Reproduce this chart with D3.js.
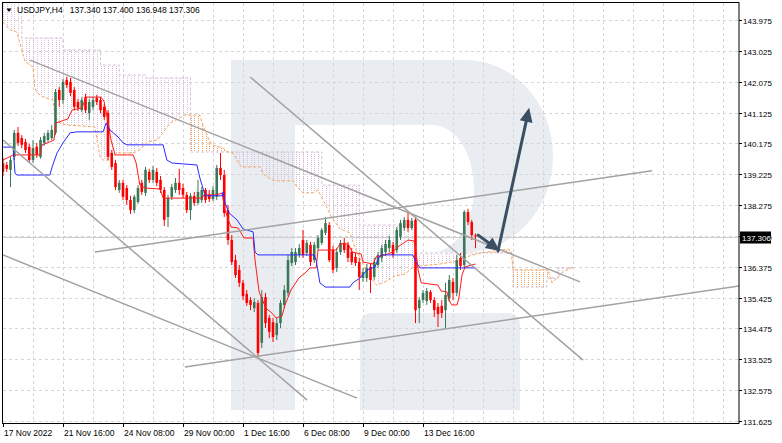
<!DOCTYPE html>
<html><head><meta charset="utf-8">
<script src="https://cdn.jsdelivr.net/npm/d3@7"></script>
<style>body{margin:0;background:#fff;}svg{display:block;}text{font-family:"Liberation Sans",Arial,sans-serif;}</style>
</head><body>
<svg id="c" width="782" height="443"></svg>
<script>
// ---------- data ----------
const symbolTitle = "USDJPY,H4";
const headerValues = ["137.340", "137.400", "136.948", "137.306"];
const lastPrice = 137.306;

const opens = [139.57,139.51,139.36,139.76,140.50,140.34,140.22,140.07,139.66,140.07,
139.76,140.19,140.28,140.34,140.50,141.82,141.51,142.13,142.07,141.82,
141.45,141.20,141.60,141.11,141.30,141.57,141.51,141.30,141.11,139.88,
139.57,138.74,138.96,138.80,138.43,138.12,138.37,138.96,138.65,139.30,
139.05,139.30,139.05,138.74,137.91,138.53,138.74,138.96,138.80,138.59,
138.12,138.56,138.34,138.43,138.74,138.59,138.46,138.53,139.42,139.20,
138.12,137.20,136.58,136.28,135.88,135.54,135.35,135.10,135.26,134.03,
135.44,134.80,134.67,134.27,134.64,135.20,135.57,136.49,136.52,136.74,
137.20,136.80,137.05,136.58,136.95,137.11,137.42,137.66,136.89,136.34,
136.83,137.11,137.05,136.83,136.68,136.52,136.03,136.03,136.37,136.06,
136.43,136.65,136.83,136.95,137.05,136.89,137.30,137.57,137.82,137.57,
137.82,135.10,135.35,135.32,135.60,135.35,135.14,135.17,135.04,135.41,
135.91,135.57,136.65,136.43,138.06,137.75,137.340];
const highs = [139.73,139.60,139.76,140.59,140.68,140.43,140.31,140.16,140.28,140.19,
140.37,140.50,140.59,140.74,141.85,141.91,142.16,142.22,142.19,141.91,
141.54,141.60,141.70,141.54,141.60,141.67,141.60,141.39,141.20,139.97,
139.66,139.05,139.05,138.89,138.56,138.59,138.89,139.05,139.45,139.39,
139.48,139.42,139.17,138.83,138.59,138.93,139.11,139.39,138.93,138.68,
138.65,138.68,139.05,138.83,138.80,138.74,138.86,139.51,139.88,139.36,
138.28,137.35,136.74,136.43,135.97,135.66,135.44,135.41,135.35,135.66,
135.57,134.89,134.80,134.80,135.35,135.81,136.74,136.95,136.95,137.08,
137.51,137.20,137.14,137.14,137.35,137.57,137.91,137.75,137.02,136.95,
137.20,137.26,137.14,136.95,136.80,136.65,136.34,136.46,136.49,136.65,
136.83,137.05,137.20,137.33,137.14,137.60,137.82,137.91,138.06,137.88,
137.91,135.44,135.66,135.72,135.66,135.44,135.26,135.35,135.88,136.12,
136.03,136.74,136.80,138.12,138.16,137.82,137.400];
const lows = [139.17,139.30,138.83,139.66,140.10,140.03,139.88,139.57,139.57,139.73,
139.70,140.10,140.22,140.28,140.43,141.30,141.39,141.88,141.63,141.20,
141.17,141.14,141.11,140.90,141.20,141.36,141.11,140.90,139.66,139.36,
138.74,138.65,138.43,138.28,138.00,138.03,138.31,138.59,138.56,138.96,
138.96,138.86,138.65,137.63,137.60,138.43,138.65,138.59,138.49,138.03,
137.82,138.25,138.28,138.34,138.34,138.37,138.40,138.43,139.05,137.91,
137.05,136.43,136.03,135.75,135.35,135.17,135.04,134.98,133.56,133.87,
134.49,134.18,134.06,134.12,134.49,135.10,135.47,136.40,136.43,136.65,
136.65,136.71,136.40,136.49,136.89,137.05,137.35,136.52,136.18,136.21,
136.74,136.80,136.52,136.43,136.40,135.66,135.91,135.91,135.57,135.97,
136.34,136.52,136.71,136.83,136.65,136.80,137.20,137.48,137.45,137.51,
134.64,134.64,135.26,135.20,135.26,134.83,134.52,134.80,134.49,135.29,
135.35,135.47,136.28,136.34,137.66,137.20,136.948];
const closes = [139.30,139.39,139.66,140.50,140.19,140.13,139.97,139.66,140.03,139.82,
140.28,140.40,140.50,140.59,141.76,141.51,142.07,141.97,141.73,141.30,
141.27,141.51,141.20,141.45,141.51,141.45,141.20,140.99,139.76,139.45,
138.83,138.96,138.53,138.43,138.12,138.53,138.80,138.68,139.36,139.05,
139.36,138.96,138.74,137.82,138.49,138.83,138.96,138.74,138.59,138.12,
138.56,138.34,138.68,138.74,138.43,138.46,138.74,139.42,139.20,138.03,
137.20,136.52,136.12,135.88,135.47,135.26,135.20,135.29,133.72,135.44,
134.64,134.37,134.21,134.64,135.26,135.66,136.58,136.83,136.83,136.95,
136.74,137.11,136.52,137.05,137.26,137.51,137.72,136.58,136.28,136.83,
137.11,136.89,136.65,136.52,136.49,136.06,136.21,136.34,135.97,136.52,
136.74,136.95,137.08,137.20,136.74,137.51,137.72,137.82,137.57,137.79,
135.04,135.35,135.57,135.63,135.35,135.04,134.92,134.95,135.51,135.97,
135.57,136.58,136.40,138.06,137.75,137.35,137.306];

const timeTickBars = [0, 16, 32, 48, 64, 80, 96, 112];
const timeTickLabels = ["17 Nov 2022","21 Nov 16:00","24 Nov 08:00","29 Nov 00:00","1 Dec 16:00","6 Dec 08:00","9 Dec 00:00","13 Dec 16:00"];
const priceTicks = [143.975,143.025,142.075,141.125,140.175,139.225,138.275,137.325,136.375,135.425,134.475,133.525,132.575,131.625];
const gridStepBars = 8;

// Ichimoku lines as [bar, price] breakpoints
const tenkan = [[0,139.66],[2.7,139.82],[9.9,139.82],[10.4,140.13],[12.5,140.22],[13.6,140.28],[14.1,140.80],[17.3,140.93],[18.4,141.20],[21.1,141.27],[22.1,141.60],[26.1,141.60],[26.9,141.48],[27.7,141.05],[28.8,140.28],[29.9,139.82],[34.7,139.82],[35.5,139.57],[36.5,138.89],[37.9,138.80],[41.9,138.77],[42.7,138.49],[53.1,138.49],[53.6,138.59],[57.1,138.59],[58.4,138.65],[59.2,138.12],[60.8,137.60],[62.7,137.57],[64.3,137.26],[66.7,137.26],[67.2,136.58],[68.3,135.60],[70.1,135.10],[71.7,134.95],[72.8,134.80],[74.4,134.86],[75.2,135.20],[76.8,135.66],[78.9,136.03],[80.8,136.21],[81.9,136.34],[83.5,136.34],[84,136.89],[88.8,136.89],[89.9,137.08],[92,137.08],[93.1,136.83],[95.5,136.77],[96,136.52],[98.7,136.46],[99.5,136.68],[101.9,136.74],[104,136.83],[105.3,136.99],[106.9,137.11],[108,137.20],[109.6,137.17],[110.1,136.89],[110.7,136.28],[111.5,135.88],[116,135.81],[116.8,135.63],[118.4,135.60],[118.9,135.35],[119.7,135.20],[121.1,135.20],[121.6,135.44],[122.4,136.12],[123.2,136.37],[126,136.46]];
const kijun = [[0,140.06],[2.7,140.06],[3.2,139.26],[3.7,139.20],[12.5,139.20],[13.1,139.45],[14.4,139.88],[16,140.19],[17.9,140.50],[19.7,140.53],[26.7,140.53],[27.5,140.80],[28.5,140.59],[30.7,140.37],[32,140.19],[33.1,140.13],[42.7,140.13],[43.7,139.66],[45.1,139.57],[51.7,139.51],[52.5,139.11],[53.3,138.80],[53.9,138.56],[58.4,138.56],[58.7,138.68],[59.2,138.34],[60.3,138.03],[62.4,137.82],[64,137.54],[66.7,137.45],[67.2,136.83],[68,136.74],[82.9,136.74],[83.5,136.58],[84.5,135.88],[85.9,135.75],[92.5,135.75],[93.3,135.88],[95.2,136.03],[97.1,136.28],[99.2,136.37],[100.3,136.68],[101.1,136.74],[109.3,136.74],[110.1,136.52],[111.2,136.34],[126,136.34]];
const spanA = [[0,143.91],[1.9,143.67],[3.7,143.60],[4.5,143.27],[5.9,142.68],[6.4,142.65],[8,142.53],[8.5,141.88],[9.1,141.73],[10.7,141.60],[13.3,141.51],[13.9,140.99],[15.2,140.80],[17.1,140.74],[24.5,140.68],[25.1,140.28],[25.9,139.76],[26.7,139.66],[28.5,139.66],[30.4,139.88],[34.7,139.88],[36.5,139.97],[38.4,140.22],[41.1,140.28],[42.7,140.50],[44.5,140.80],[47.2,140.96],[48.5,141.05],[52.5,141.05],[53.3,140.74],[54.7,140.34],[55.7,140.13],[58.7,140.03],[60,139.91],[61.3,139.88],[62.4,139.66],[63.5,139.45],[68.5,139.45],[69.3,139.26],[70.4,139.14],[71.7,139.05],[73.1,139.02],[77.3,139.02],[78.4,138.83],[80,138.65],[82.7,138.65],[84,138.74],[85.1,138.49],[86.4,138.19],[87.7,137.88],[89.9,137.54],[92.5,137.42],[93.9,136.95],[95.7,136.52],[97.9,136.03],[99.7,135.81],[101.9,135.91],[104.5,136.09],[107.2,136.15],[109.1,136.34],[111.2,136.40],[116.5,136.46],[121.3,136.55],[124.5,136.71],[127.2,136.80],[131.2,136.86],[134.7,136.92],[135.5,136.86],[136,136.28],[145.3,136.28],[146.4,135.88],[149.3,136.21],[152,136.37]];
const spanB = [[0,144.75],[5,143.42],[16,143.05],[26,142.59],[31,142.28],[38,142.19],[50,139.91],[85,138.89],[95,137.66],[110,136.80],[136,135.75],[145,136.03],[148,136.34],[152,136.34]];

// analyst drawings: [bar1, price1, bar2, price2]
const trendLines = [[7.2,142.74,153.9,135.91],[65.9,142.22,154.7,133.50],[24.5,136.83,173.1,139.33],[48.5,133.29,196.3,135.78],[0,140.28,81.1,132.27],[0,136.74,94.4,132.33]];
const arrows = [[126.7,137.35,132.5,136.86],[132.0,136.86,140.3,141.27]];

// ---------- drawing ----------
const svg = d3.select("#c");
const plot = {l:3, t:3, r:739, b:423};
const x = d3.scaleLinear().domain([0,196]).range([3,738]);
const y = d3.scaleLinear().domain([131.625,143.975]).range([421,20]);

svg.append("rect").attr("width",782).attr("height",443).attr("fill","#fff");
const defs = svg.append("defs");
defs.append("clipPath").attr("id","plotClip").append("rect")
  .attr("x",plot.l).attr("y",plot.t).attr("width",plot.r-plot.l).attr("height",plot.b-plot.t);

function mkPattern(id,color){
  const p = defs.append("pattern").attr("id",id).attr("patternUnits","userSpaceOnUse")
    .attr("x",Math.round(x(0))).attr("y",0).attr("width",15).attr("height",2);
  [0,4,8,11].forEach(dx=>p.append("rect").attr("x",dx).attr("y",0).attr("width",1).attr("height",1).attr("fill",color));
}
mkPattern("hPink","#d8bfd8");
mkPattern("hOrange","#f4a460");

const g = svg.append("g").attr("clip-path","url(#plotClip)");

// watermark logo
const wm = g.append("g").attr("fill","#e9edf2");
wm.append("path").attr("d","M231,60H465A88,96 0 0 1 465,252H432A42,63.5 0 0 0 432,125H295V410H231Z");
wm.append("path").attr("d","M360,410V326Q360,313 373,313H507Q520,313 520,326V410Z");

// grid
const grid = g.append("g").attr("stroke","#d6d6d6").attr("stroke-width",1).attr("stroke-dasharray","3,3");
priceTicks.forEach(p=>{
  const yy = Math.round(y(p))+0.5;
  grid.append("line").attr("x1",plot.l).attr("x2",plot.r).attr("y1",yy).attr("y2",yy);
});
for(let b=gridStepBars;b<=196;b+=gridStepBars){
  const xx = Math.round(x(b))+0.5;
  grid.append("line").attr("x1",xx).attr("x2",xx).attr("y1",plot.t).attr("y2",plot.b);
}

// cloud
const toPt = d=>[x(d[0]), y(d[1])];
const bStep = [];
spanB.forEach((d,k)=>{ bStep.push(d); if(k<spanB.length-1) bStep.push([spanB[k+1][0], d[1]]); });
const ptsA = spanA.map(toPt);
const ptsB = bStep.map(toPt).reverse();
const lin = d3.line();
const cloudD = lin(ptsA.concat(ptsB)) + "Z";
const aEnd = ptsA[ptsA.length-1][0], aStart = ptsA[0][0];
defs.append("clipPath").attr("id","aboveA").append("path")
  .attr("d", lin(ptsA.concat([[aEnd,y(150)],[aStart,y(150)]]))+"Z");
defs.append("clipPath").attr("id","belowA").append("path")
  .attr("d", lin(ptsA.concat([[aEnd,y(120)],[aStart,y(120)]]))+"Z");
g.append("g").attr("clip-path","url(#aboveA)").append("path").attr("d",cloudD).attr("fill","url(#hPink)");
g.append("g").attr("clip-path","url(#belowA)").append("path").attr("d",cloudD).attr("fill","url(#hOrange)");
g.append("path").attr("d", d3.line().x(d=>x(d[0])).y(d=>y(d[1])).curve(d3.curveStepAfter)(spanB))
  .attr("fill","none").attr("stroke","#d8bfd8").attr("stroke-dasharray","3,2");
g.append("path").attr("d", d3.line().x(d=>x(d[0])).y(d=>y(d[1]))(spanA))
  .attr("fill","none").attr("stroke","#f4a460").attr("stroke-dasharray","3,2");

// bid line
g.append("line").attr("x1",plot.l).attr("x2",plot.r)
  .attr("y1",Math.round(y(lastPrice))+0.5).attr("y2",Math.round(y(lastPrice))+0.5)
  .attr("stroke","#cfcfcf");

// candles
const bull = "#3a7858", bear = "#ff0000";
const cg = g.append("g");
opens.forEach((o,i)=>{
  const c = closes[i], up = c >= o, col = up ? bull : bear;
  const cx = x(i);
  cg.append("line").attr("x1",cx).attr("x2",cx).attr("y1",y(highs[i])).attr("y2",y(lows[i]))
    .attr("stroke",col).attr("stroke-width",1);
  const y0 = Math.min(y(o),y(c)), hgt = Math.max(1, Math.abs(y(o)-y(c)));
  cg.append("rect").attr("x",cx-1.3).attr("y",y0).attr("width",2.6).attr("height",hgt).attr("fill",col);
});

// tenkan / kijun
const ln = d3.line().x(d=>x(d[0])).y(d=>y(d[1]));
g.append("path").attr("d",ln(tenkan)).attr("fill","none").attr("stroke","#ff1a1a").attr("stroke-width",1);
g.append("path").attr("d",ln(kijun)).attr("fill","none").attr("stroke","#2a2aff").attr("stroke-width",1);

// trend lines
trendLines.forEach(t=>{
  g.append("line").attr("x1",x(t[0])).attr("y1",y(t[1])).attr("x2",x(t[2])).attr("y2",y(t[3]))
    .attr("stroke","#a2a2a2").attr("stroke-width",1.5);
});

// arrows
arrows.forEach(a=>{
  const x1=x(a[0]), y1=y(a[1]), x2=x(a[2]), y2=y(a[3]);
  const ang=Math.atan2(y2-y1,x2-x1), L=14, W=6.5;
  const bx=x2-L*Math.cos(ang), by=y2-L*Math.sin(ang);
  g.append("line").attr("x1",x1).attr("y1",y1).attr("x2",bx+3*Math.cos(ang)).attr("y2",by+3*Math.sin(ang))
    .attr("stroke","#3b4f63").attr("stroke-width",3).attr("stroke-linecap","round");
  g.append("path").attr("d",`M${x2},${y2}L${bx+W*Math.sin(ang)},${by-W*Math.cos(ang)}L${bx-W*Math.sin(ang)},${by+W*Math.cos(ang)}Z`)
    .attr("fill","#3b4f63");
});

// frame
svg.append("rect").attr("x",2.5).attr("y",2.5).attr("width",plot.r-2.5).attr("height",plot.b-2.5+0.5)
  .attr("fill","none").attr("stroke","#000");

// y axis
priceTicks.forEach(p=>{
  const yy = Math.round(y(p))+0.5;
  svg.append("line").attr("x1",plot.r).attr("x2",plot.r+3).attr("y1",yy).attr("y2",yy).attr("stroke","#000");
  svg.append("text").attr("x",743).attr("y",yy+3).attr("font-size","8px").attr("fill","#000").text(p.toFixed(3));
});
// price label
const ly = Math.round(y(lastPrice))+0.5;
svg.append("rect").attr("x",740).attr("y",ly-6).attr("width",31).attr("height",12).attr("fill","#000");
svg.append("text").attr("x",742).attr("y",ly+3).attr("font-size","8px").attr("fill","#fff").text(lastPrice.toFixed(3));

// x axis
timeTickBars.forEach((b,k)=>{
  const xx = Math.round(x(b))+0.5;
  svg.append("line").attr("x1",xx).attr("x2",xx).attr("y1",plot.b).attr("y2",plot.b+4).attr("stroke","#000");
  svg.append("text").attr("x",xx+0.5).attr("y",436).attr("font-size","8.5px").attr("fill","#000").text(timeTickLabels[k]);
});

// header
svg.append("path").attr("d","M6.5,8.5L11.5,8.5L9,12Z").attr("fill","#000");
svg.append("text").attr("x",17).attr("y",13).attr("font-size","8.5px").attr("fill","#000")
  .style("white-space","pre").text(symbolTitle + "   " + headerValues.join(" "));
</script>
</body></html>
